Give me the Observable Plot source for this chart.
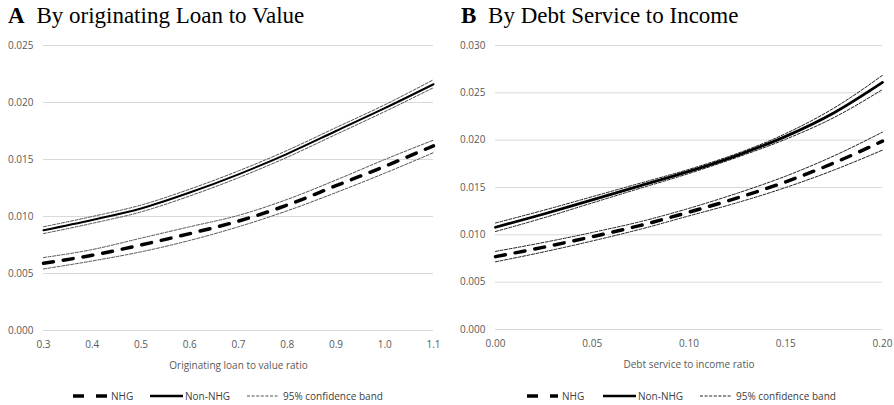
<!DOCTYPE html>
<html>
<head>
<meta charset="utf-8">
<script src="https://cdn.jsdelivr.net/npm/d3@7"></script>
<script src="https://cdn.jsdelivr.net/npm/@observablehq/plot@0.6"></script>
<style>
  html, body { margin: 0; padding: 0; background: #fff; }
  #root { position: relative; width: 894px; height: 405px; overflow: hidden; font-family: "Open Sans", sans-serif; }
  .title { position: absolute; top: 2px; font-family: "Liberation Serif", "Times New Roman", serif; font-size: 23px; color: #000; white-space: nowrap; line-height: 28px; }
  .title b { margin-right: 6px; }
  .panel { position: absolute; top: 35px; }
  .legend { position: absolute; top: 389px; height: 14px; font-size: 10px; color: #404040; white-space: nowrap; }
  .legend .item { position: absolute; top: 0; display: flex; align-items: center; height: 14px; }
  .legend svg { display: block; }
</style>
</head>
<body>
<div id="root"></div>
<script>
// ---------- Panel A: by originating loan to value ----------
const ltv = [0.3, 0.4, 0.5, 0.6, 0.7, 0.8, 0.9, 1.0, 1.1];
const ltvNHG    = [0.0059, 0.0066, 0.0075, 0.0085, 0.0096, 0.0110, 0.0127, 0.0144, 0.0162];
const ltvNHGLo  = [0.0054, 0.0061, 0.0069, 0.0079, 0.0091, 0.0105, 0.0121, 0.0138, 0.0156];
const ltvNHGHi  = [0.0064, 0.0071, 0.0081, 0.0091, 0.0101, 0.0115, 0.0132, 0.0150, 0.0167];
const ltvNon    = [0.0088, 0.0097, 0.0107, 0.0121, 0.0137, 0.0155, 0.0175, 0.0195, 0.0216];
const ltvNonLo  = [0.0085, 0.0094, 0.0104, 0.0118, 0.0134, 0.0152, 0.0172, 0.0192, 0.0213];
const ltvNonHi  = [0.0091, 0.0100, 0.0110, 0.0124, 0.0140, 0.0158, 0.0178, 0.0198, 0.0220];
const ltvXTicks = [0.3, 0.4, 0.5, 0.6, 0.7, 0.8, 0.9, 1.0, 1.1];
const ltvYTicks = [0, 0.005, 0.010, 0.015, 0.020, 0.025];

// ---------- Panel B: by debt service to income ----------
const dsti = [0, 0.025, 0.05, 0.075, 0.10, 0.125, 0.15, 0.175, 0.20];
const dstiNHG   = [0.0077, 0.0087, 0.0098, 0.0110, 0.0124, 0.0139, 0.0156, 0.0176, 0.0199];
const dstiNHGLo = [0.00715, 0.0082, 0.00935, 0.0106, 0.0120, 0.0134, 0.0150, 0.01685, 0.01895];
const dstiNHGHi = [0.00825, 0.0092, 0.01025, 0.0114, 0.0128, 0.0144, 0.0162, 0.01835, 0.02085];
const dstiNon   = [0.0108, 0.0122, 0.0137, 0.0152, 0.0167, 0.0184, 0.0204, 0.0229, 0.0261];
const dstiNonLo = [0.01035, 0.0118, 0.01337, 0.01493, 0.01648, 0.0182, 0.0201, 0.0224, 0.02535];
const dstiNonHi = [0.01125, 0.0126, 0.01403, 0.01547, 0.01692, 0.0186, 0.0207, 0.0234, 0.02685];
const dstiXTicks = [0, 0.05, 0.10, 0.15, 0.20];
const dstiYTicks = [0, 0.005, 0.010, 0.015, 0.020, 0.025, 0.030];

const legendLabels = ["NHG", "Non-NHG", "95% confidence band"];

const rows = (xs, ys) => xs.map((x, i) => ({x, y: ys[i]}));

function panel({xs, series, xDomain, yDomain, xTicks, yTicks, xFormat, xLabel,
                marginLeft, marginRight, marginBottom, bandColor, solidWidth, dashWidth}) {
  const [nhg, nhgLo, nhgHi, non, nonLo, nonHi] = series;
  const curve = "monotone-x";
  const band = {x: "x", y: "y", curve, stroke: bandColor, strokeWidth: 1, strokeDasharray: "3,1.6"};
  return Plot.plot({
    width: 447, height: 340,
    marginTop: 10, marginBottom, marginLeft, marginRight,
    style: {fontFamily: "Open Sans, sans-serif", fontSize: "10px", color: "#595959", background: "transparent"},
    x: {domain: xDomain},
    y: {domain: yDomain},
    marks: [
      Plot.gridY(yTicks, {stroke: "#d9d9d9", strokeOpacity: 1, strokeWidth: 1}),
      Plot.axisY(yTicks, {tickSize: 0, tickPadding: 10, tickFormat: d3.format(".3f"), label: null, fill: "#595959"}),
      Plot.axisX(xTicks, {tickSize: 0, tickPadding: 10, tickFormat: xFormat, label: xLabel,
                          labelAnchor: "center", labelArrow: "none", labelOffset: 38, fill: "#595959"}),
      Plot.line(rows(xs, nhgLo), band),
      Plot.line(rows(xs, nhgHi), band),
      Plot.line(rows(xs, nonLo), band),
      Plot.line(rows(xs, nonHi), band),
      Plot.line(rows(xs, non), {x: "x", y: "y", curve, stroke: "#000", strokeWidth: solidWidth}),
      Plot.line(rows(xs, nhg), {x: "x", y: "y", curve, stroke: "#000", strokeWidth: dashWidth, strokeDasharray: "10,10"})
    ]
  });
}

const root = document.getElementById("root");

function addTitle(letter, text, left) {
  const t = document.createElement("div");
  t.className = "title";
  t.style.left = left + "px";
  t.innerHTML = `<b>${letter}</b> ${text}`;
  root.appendChild(t);
}

function addPanel(svg, left) {
  const d = document.createElement("div");
  d.className = "panel";
  d.style.left = left + "px";
  d.appendChild(svg);
  root.appendChild(d);
}

function sample(kind, w, bandColor) {
  const ns = "http://www.w3.org/2000/svg";
  const s = document.createElementNS(ns, "svg");
  s.setAttribute("width", w); s.setAttribute("height", 14);
  const l = document.createElementNS(ns, "line");
  l.setAttribute("x1", 0); l.setAttribute("x2", w);
  l.setAttribute("y1", 7); l.setAttribute("y2", 7);
  if (kind === 0) { l.setAttribute("stroke", "#000"); l.setAttribute("stroke-width", 3.5); l.setAttribute("stroke-dasharray", "11,12"); }
  else if (kind === 1) { l.setAttribute("stroke", "#000"); l.setAttribute("stroke-width", 2.5); }
  else { l.setAttribute("stroke", bandColor); l.setAttribute("stroke-width", 1); l.setAttribute("stroke-dasharray", "3,1.6"); }
  s.appendChild(l);
  return s;
}

function addLegend(positions, widths, bandColor) {
  const lg = document.createElement("div");
  lg.className = "legend";
  lg.style.left = "0px";
  legendLabels.forEach((lab, i) => {
    const it = document.createElement("div");
    it.className = "item";
    it.style.left = positions[i] + "px";
    it.appendChild(sample(i, widths[i], bandColor));
    const sp = document.createElement("span");
    sp.textContent = lab;
    sp.style.marginLeft = (i === 1 ? 2 : 4) + "px";
    it.appendChild(sp);
    lg.appendChild(it);
  });
  root.appendChild(lg);
}

addTitle("A", "By originating Loan to Value", 8);
addTitle("B", "By Debt Service to Income", 461);

addPanel(panel({
  xs: ltv, series: [ltvNHG, ltvNHGLo, ltvNHGHi, ltvNon, ltvNonLo, ltvNonHi],
  xDomain: [0.3, 1.1], yDomain: [0, 0.025], xTicks: ltvXTicks, yTicks: ltvYTicks,
  xFormat: d3.format(".1f"), xLabel: "Originating loan to value ratio",
  marginLeft: 43, marginRight: 14, marginBottom: 45,
  bandColor: "#555", solidWidth: 2, dashWidth: 3.5
}), 0);

addPanel(panel({
  xs: dsti, series: [dstiNHG, dstiNHGLo, dstiNHGHi, dstiNon, dstiNonLo, dstiNonHi],
  xDomain: [0, 0.2], yDomain: [0, 0.030], xTicks: dstiXTicks, yTicks: dstiYTicks,
  xFormat: d3.format(".2f"), xLabel: "Debt service to income ratio",
  marginLeft: 48, marginRight: 12, marginBottom: 46,
  bandColor: "#222", solidWidth: 2.8, dashWidth: 3.5
}), 447);

addLegend([73, 150, 247], [34, 33, 32], "#555");
addLegend([527, 603, 700], [31, 33, 32], "#222");
</script>
</body>
</html>
